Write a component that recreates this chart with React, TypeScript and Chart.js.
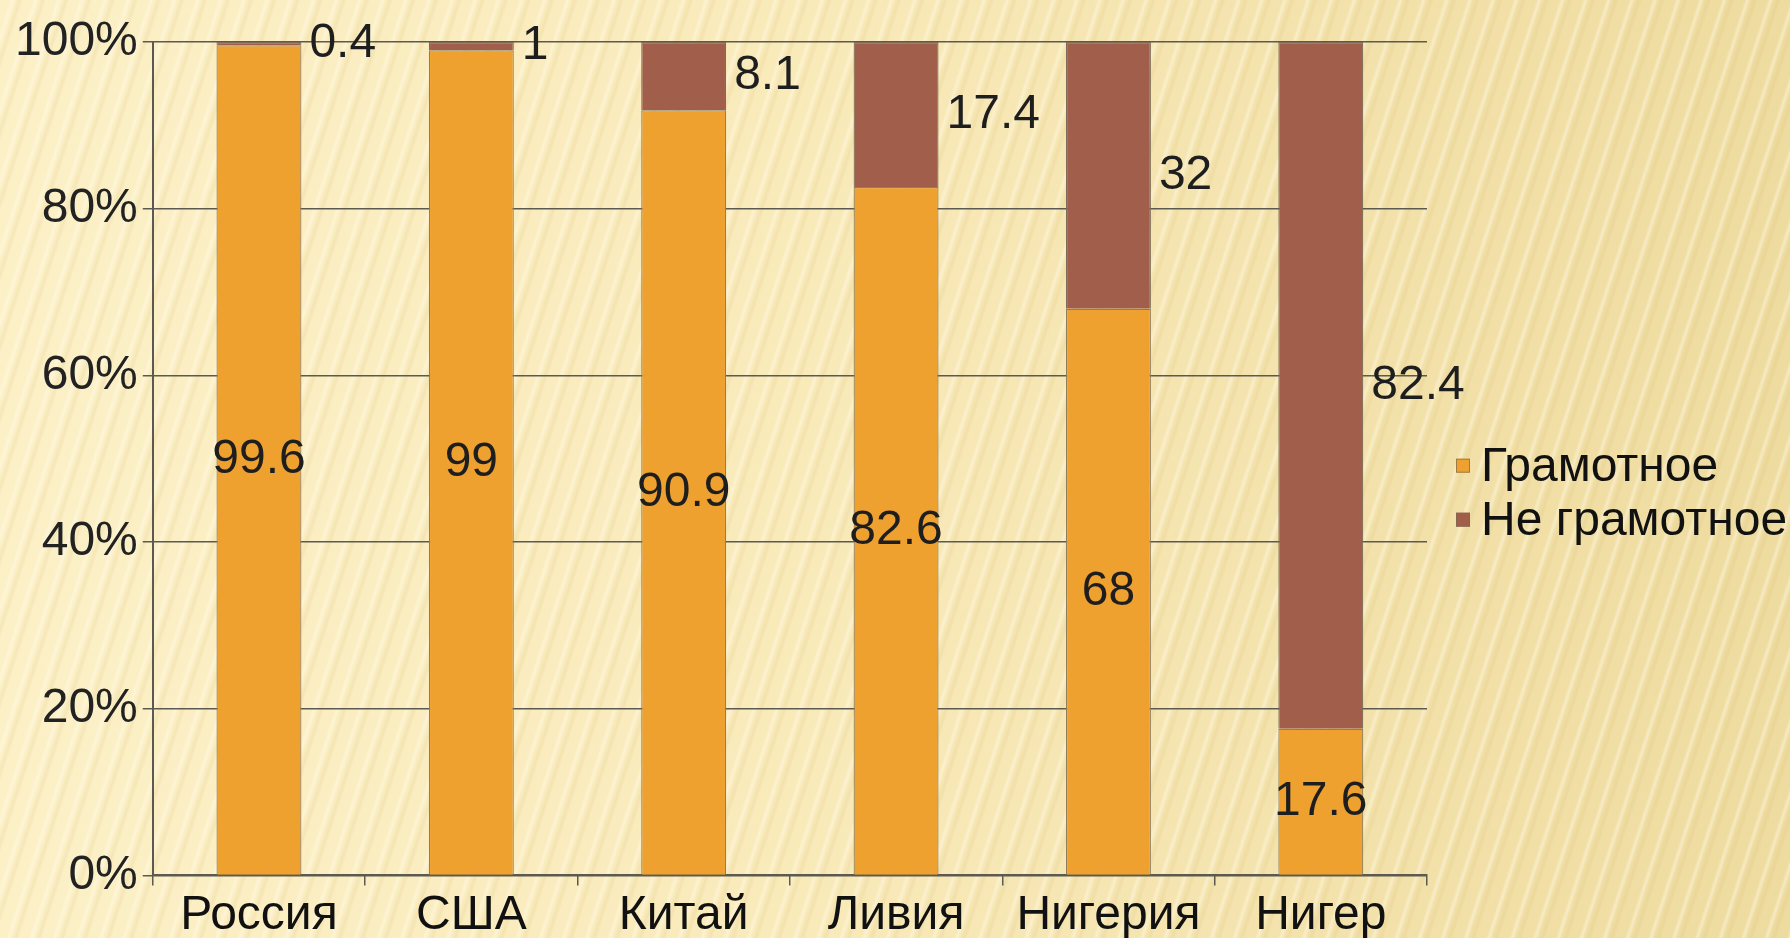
import React, { useEffect, useRef } from "react";
import { Chart, registerables } from "chart.js";

Chart.register(...registerables);

const categories = ["Россия", "США", "Китай", "Ливия", "Нигерия", "Нигер"];
const literate = [99.6, 99, 90.9, 82.6, 68, 17.6];
const illiterate = [0.4, 1, 8.1, 17.4, 32, 82.4];
const seriesNames = ["Грамотное", "Не грамотное"];
const yTicks = [0, 20, 40, 60, 80, 100];

const ORANGE = "#EFA12F";
const BROWN = "#A15F4B";
const COLORS = [ORANGE, BROWN];
const LINE = "#5c5a50";
const FONT = "'Liberation Sans', Arial, sans-serif";
const FS = 48;

const totals = literate.map((v, i) => v + illiterate[i]);
const literatePct = literate.map((v, i) => (v / totals[i]) * 100);
const illiteratePct = illiterate.map((v, i) => (v / totals[i]) * 100);
const rawValues = [literate, illiterate];

const labelPlugin = {
  id: "barLabels",
  afterDatasetsDraw(chart: any) {
    const ctx = chart.ctx;
    ctx.save();
    ctx.font = `${FS}px ${FONT}`;
    ctx.fillStyle = "#1e1e1e";
    ctx.textBaseline = "middle";
    chart.data.datasets.forEach((ds: any, di: number) => {
      const meta = chart.getDatasetMeta(di);
      meta.data.forEach((bar: any, i: number) => {
        const p = bar.getProps(["x", "y", "base", "width"], true);
        const txt = String(rawValues[di][i]);
        const cy = (p.y + p.base) / 2;
        if (di === 0) {
          ctx.textAlign = "center";
          ctx.fillText(txt, p.x, cy);
        } else {
          ctx.textAlign = "left";
          ctx.fillText(txt, p.x + p.width / 2 + 8, cy);
        }
      });
    });
    ctx.restore();
  },
};

const legendPlugin = {
  id: "sideLegend",
  afterDraw(chart: any) {
    const ctx = chart.ctx;
    const area = chart.chartArea;
    ctx.save();
    ctx.font = `${FS}px ${FONT}`;
    ctx.textBaseline = "middle";
    ctx.textAlign = "left";
    const x0 = area.right + 29;
    const yc0 = (area.top + area.bottom) / 2 + 7;
    chart.data.datasets.forEach((ds: any, di: number) => {
      const yc = yc0 + di * 54;
      ctx.fillStyle = COLORS[di];
      ctx.fillRect(x0, yc - 7, 14, 14);
      ctx.strokeStyle = "rgba(120,105,80,0.7)";
      ctx.lineWidth = 1;
      ctx.strokeRect(x0 + 0.5, yc - 6.5, 13, 13);
      ctx.fillStyle = "#111";
      ctx.fillText(ds.label, x0 + 25, yc + 2);
    });
    ctx.restore();
  },
};

export default function App() {
  const ref = useRef<HTMLCanvasElement>(null);
  useEffect(() => {
    document.body.style.margin = "0";
    const chart = new Chart(ref.current as HTMLCanvasElement, {
      type: "bar",
      data: {
        labels: categories,
        datasets: [
          {
            label: seriesNames[0],
            data: literatePct,
            backgroundColor: ORANGE,
            borderColor: "#8f7d5c",
            borderWidth: 1.2,
            barPercentage: 0.4,
            categoryPercentage: 1,
          },
          {
            label: seriesNames[1],
            data: illiteratePct,
            backgroundColor: BROWN,
            borderColor: "#7d6a58",
            borderWidth: 1.2,
            barPercentage: 0.4,
            categoryPercentage: 1,
          },
        ],
      },
      options: {
        animation: false,
        responsive: true,
        maintainAspectRatio: false,
        layout: { padding: { left: 10, top: 42, right: 363, bottom: -9 } },
        plugins: {
          legend: { display: false },
          tooltip: { enabled: false },
        },
        scales: {
          x: {
            stacked: true,
            grid: {
              offset: true,
              drawOnChartArea: false,
              drawTicks: true,
              tickLength: 10,
              color: LINE,
              lineWidth: 1.5,
            },
            border: { color: LINE, width: 2 },
            ticks: { font: { family: FONT, size: FS }, color: "#111", padding: 2 },
          },
          y: {
            stacked: true,
            min: 0,
            max: 100,
            afterBuildTicks: (axis: any) => {
              axis.ticks = yTicks.map((v) => ({ value: v }));
            },
            grid: { color: LINE, lineWidth: 1.5, tickLength: 10 },
            border: { color: LINE, width: 2 },
            ticks: {
              font: { family: FONT, size: FS },
              color: "#222",
              padding: 5,
              callback: (v: any) => v + "%",
            },
          },
        },
      },
      plugins: [labelPlugin, legendPlugin],
    });
    return () => chart.destroy();
  }, []);

  return (
    <div
      style={{
        position: "fixed",
        left: 0,
        top: 0,
        width: "1790px",
        height: "938px",
        background:
          "repeating-linear-gradient(108deg, rgba(255,255,255,0) 0px, rgba(255,255,255,0) 9px, rgba(255,252,235,0.45) 12px, rgba(255,255,255,0) 15px, rgba(205,175,95,0.14) 19px, rgba(255,255,255,0) 22px), linear-gradient(90deg, #FCF0C7 0%, #F9EABA 45%, #EEDB9F 100%)",
      }}
    >
      <canvas ref={ref} />
    </div>
  );
}
